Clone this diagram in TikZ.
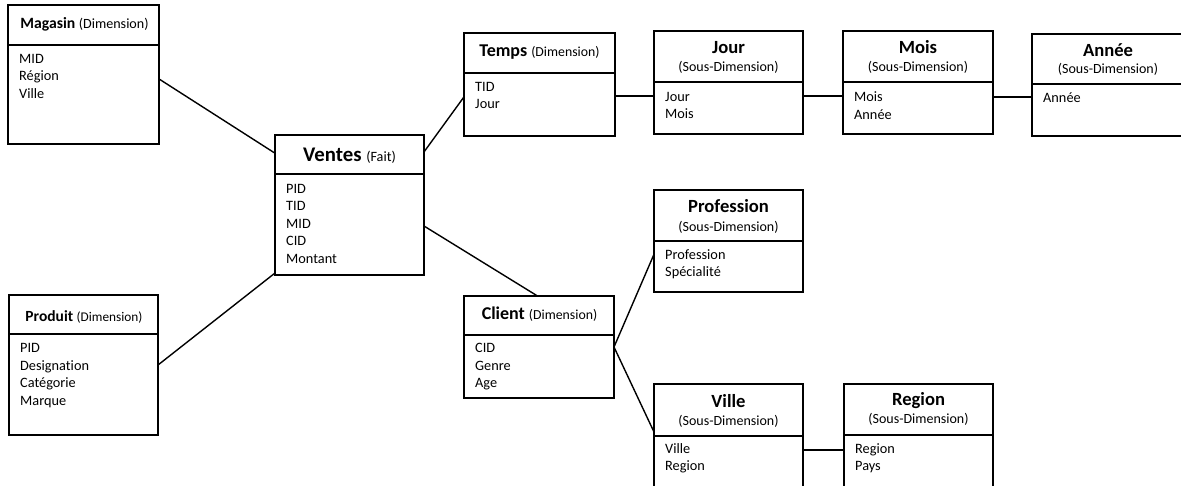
\documentclass[tikz,border=0pt]{standalone}
\usepackage{fontspec}
\setmainfont{Carlito}[Ligatures=NoCommon]
\usetikzlibrary{calc}

\tikzset{
  box/.style={draw, line width=2pt, rectangle, inner sep=0pt, outer sep=0pt, anchor=north west},
  rule/.style={line width=2pt},
  link/.style={line width=1.4pt},
  body/.style={inner sep=0pt, anchor=base west, font=\fontsize{14.3}{17}\selectfont},
  ttl/.style={inner sep=0pt, anchor=base, font=\bfseries\fontsize{#1}{20}\selectfont},
  ttl/.default=16,
  bigttl/.style={inner sep=0pt, anchor=base, font=\bfseries\fontsize{20.8}{24}\selectfont},
  subttl/.style={inner sep=0pt, anchor=base, font=\bfseries\fontsize{18.6}{22}\selectfont},
  kind/.style={inner sep=0pt, anchor=base, font=\fontsize{14}{16}\selectfont},
}

% table frame: name, x1, y1, x2, y2, y of the header rule
\newcommand\tablebox[6]{%
  \node[box, minimum width={(#4-#2)*1pt}, minimum height={(#5-#3)*1pt}] (#1) at (#2,#3) {};
  \draw[rule] (#2,#6) -- (#4,#6);
}
% field list: name, x, first baseline, fields
\newcommand\fields[4]{%
  \foreach \txt [count=\i] in {#4}
    \node[body] (#1-f\i) at (#2, {#3+(\i-1)*17.5}) {\txt};
}
% bracketed kind after a title, at a given size
\newcommand\dimkind[2][13.8]{{\mdseries\fontsize{#1}{16}\selectfont(#2)}}

\begin{document}
\begin{tikzpicture}[x=1pt, y=-1pt]
\useasboundingbox (0,0) rectangle (1181,485);
\begin{scope}
\clip (0,0) rectangle (1181,485);

% Magasin
\tablebox{mag}{8}{5}{159}{144}{45}
\node[ttl=15.7] (mag-t) at (84.5,28) {Magasin \dimkind[14.1]{Dimension}};
\fields{mag}{19}{63}{MID, Région, Ville}

% Ventes
\tablebox{ventes}{275}{135}{424}{275}{174}
\node[bigttl] (ventes-t) at (349.5,161) {Ventes \dimkind[14.2]{Fait}};
\fields{ventes}{286}{193}{PID, TID, MID, CID, Montant}

% Temps
\tablebox{temps}{464}{33}{615}{136}{73}
\node[ttl=18] (temps-t) at (539.5,56) {Temps \dimkind{Dimension}};
\fields{temps}{475}{91}{TID, Jour}

% Jour
\tablebox{jour}{654}{31}{803}{134}{82}
\node[subttl] (jour-t) at (728.5,53) {Jour};
\node[kind] (jour-k) at (728.5,71) {(Sous-Dimension)};
\fields{jour}{665}{101}{Jour, Mois}

% Mois
\tablebox{mois}{843}{31}{993}{134}{82}
\node[subttl] (mois-t) at (918,53) {Mois};
\node[kind] (mois-k) at (918,71) {(Sous-Dimension)};
\fields{mois}{854}{101.5}{Mois, Année}

% Année
\tablebox{annee}{1032}{34}{1184}{136}{84}
\node[subttl] (annee-t) at (1108,56) {Année};
\node[kind] (annee-k) at (1108,73) {(Sous-Dimension)};
\fields{annee}{1043}{102}{Année}

% Produit
\tablebox{prod}{9}{295}{158}{435}{334}
\node[ttl=15.5] (prod-t) at (84,321) {Produit \dimkind[13.3]{Dimension}};
\fields{prod}{20}{352.5}{PID, Designation, Catégorie, Marque}

% Client
\tablebox{client}{464}{296}{614}{398}{335}
\node[ttl=18] (client-t) at (539.5,319) {Client \dimkind{Dimension}};
\fields{client}{475}{352.5}{CID, Genre, Age}

% Profession
\tablebox{prof}{654}{190}{803}{292}{241}
\node[subttl] (prof-t) at (728.5,212) {Profession};
\node[kind] (prof-k) at (728.5,231) {(Sous-Dimension)};
\fields{prof}{665}{259}{Profession, Spécialité}

% Ville
\tablebox{ville}{654}{384}{803}{487}{436}
\node[subttl] (ville-t) at (728.5,407) {Ville};
\node[kind] (ville-k) at (728.5,425) {(Sous-Dimension)};
\fields{ville}{665}{453}{Ville, Region}

% Region
\tablebox{region}{844}{384}{993}{487}{435}
\node[subttl] (region-t) at (918.5,405.5) {Region};
\node[kind] (region-k) at (918.5,423) {(Sous-Dimension)};
\fields{region}{855}{453}{Region, Pays}

% links between fact and dimensions
\draw[link] ($(mag.north east)!0.532!(mag.south east)$) -- ($(ventes.north west)!0.13!(ventes.south west)$);
\draw[link] (prod.east) -- ($(ventes.north west)!0.986!(ventes.south west)$);
\draw[link] ($(ventes.north east)!0.121!(ventes.south east)$) -- ($(temps.north west)!0.62!(temps.south west)$);
\draw[link] ($(ventes.north east)!0.65!(ventes.south east)$) -- ($(client.north west)!0.49!(client.north east)$);

% hierarchy links
\coordinate (tj) at ($(temps.north east)!0.61!(temps.south east)$);
\draw[link] (tj) -- (tj -| jour.west);
\coordinate (jm) at ($(jour.north east)!0.63!(jour.south east)$);
\draw[link] (jm) -- (jm -| mois.west);
\coordinate (ma) at ($(mois.north east)!0.64!(mois.south east)$);
\draw[link] (ma) -- (ma -| annee.west);
\draw[link] (client.east) -- ($(prof.north west)!0.63!(prof.south west)$);
\draw[link] (client.east) -- ($(ville.north west)!0.466!(ville.south west)$);
\coordinate (vr) at ($(ville.north east)!0.64!(ville.south east)$);
\draw[link] (vr) -- (vr -| region.west);
\end{scope}
\end{tikzpicture}
\end{document}
